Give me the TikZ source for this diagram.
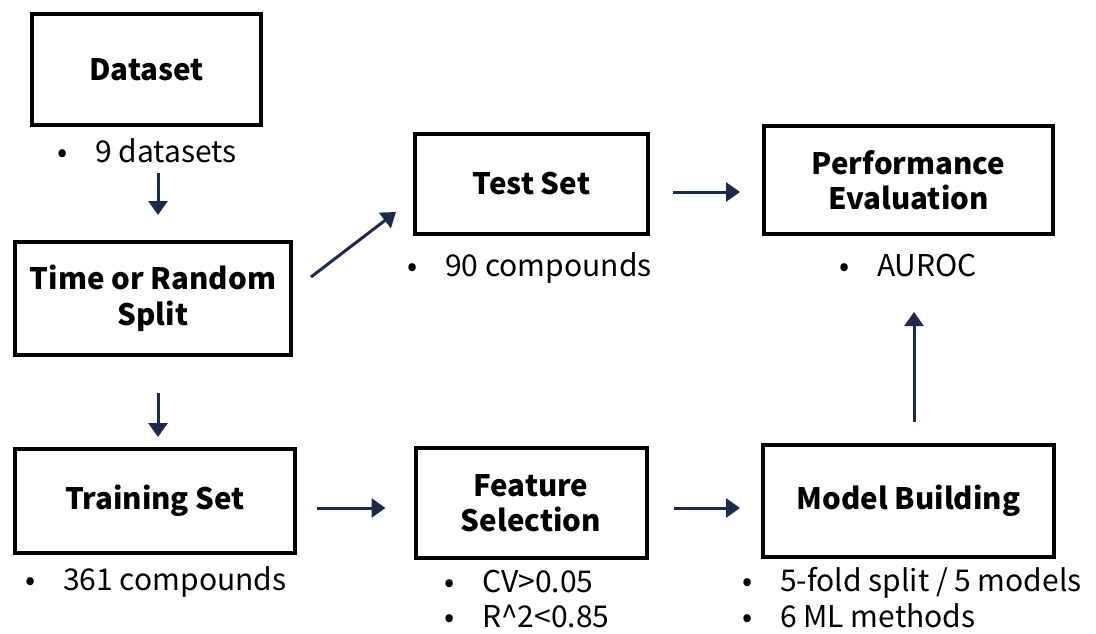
\documentclass[tikz,border=0pt]{standalone}
\usepackage{fontspec}
\setmainfont{Noto Sans CJK JP}
\usetikzlibrary{arrows.meta,calc}
\definecolor{navy}{HTML}{1C2A4E}
\newcommand{\bul}[1]{\makebox[38pt][l]{•}#1}
\begin{document}
\begin{tikzpicture}[x=1pt,y=-1pt,
  box/.style={draw=black,line width=4pt,inner sep=0pt,align=center,
    font=\fontsize{29.5}{35.5}\selectfont\bfseries},
  btxt/.style={anchor=base west,inner sep=0pt,font=\fontsize{30}{35}\selectfont},
  arr/.style={draw=navy,line width=3pt,-{Triangle[length=14pt,width=19pt]}}]
\useasboundingbox (0,0) rectangle (1096,634);
\node[box,minimum width=229pt,minimum height=111pt] (data) at (146.5,69.5) {Dataset};
\node[box,minimum width=276pt,minimum height=113pt] (split) at (153,298.5) {Time or Random\\Split};
\node[box,minimum width=280pt,minimum height=104pt] (train) at (155,501) {Training Set};
\node[box,minimum width=231pt,minimum height=110pt] (feat) at (531,503) {Feature\\Selection};
\node[box,minimum width=291pt,minimum height=112pt] (model) at (908.5,501) {Model Building};
\node[box,minimum width=289pt,minimum height=108pt] (perf) at (908.5,180) {Performance\\Evaluation};
\node[box,minimum width=233pt,minimum height=100pt] (test) at (531.5,184) {Test Set};
% bullets
\node[btxt] (b1) at (57,162) {\bul{9 datasets}};
\node[btxt] (b2) at (407,276) {\bul{90 compounds}};
\node[btxt] (b3) at (839,276) {\bul{AUROC}};
\node[btxt] (b4) at (25,590) {\bul{361 compounds}};
\node[btxt] (b5) at (444,592) {\bul{CV>0.05}};
\node[btxt] (b6) at (444,627) {\bul{R\^{}2<0.85}};
\node[btxt] (b7) at (742,591) {\bul{5-fold split / 5 models}};
\node[btxt] (b8) at (742,627) {\bul{6 ML methods}};
% arrows
\draw[arr] ($(data.south)+(11.5,46)$) -- ($(split.north)+(5,-25)$);
\draw[arr] ($(split.south)+(5,36)$) -- ($(train.north)+(3,-10)$);
\draw[arr] ($(split.east)+(18,-21.5)$) -- ($(test.west)+(-17,28)$);
\draw[arr] ($(test.east)+(23,8)$) -- ($(perf.west)+(-22,12)$);
\draw[arr] ($(train.east)+(20,7)$) -- ($(feat.west)+(-28,5)$);
\draw[arr] ($(feat.east)+(25,5)$) -- ($(model.west)+(-21,7)$);
\draw[arr] ($(model.north)+(5.5,-21)$) -- ($(perf.south)+(5.5,76)$);
\end{tikzpicture}
\end{document}
